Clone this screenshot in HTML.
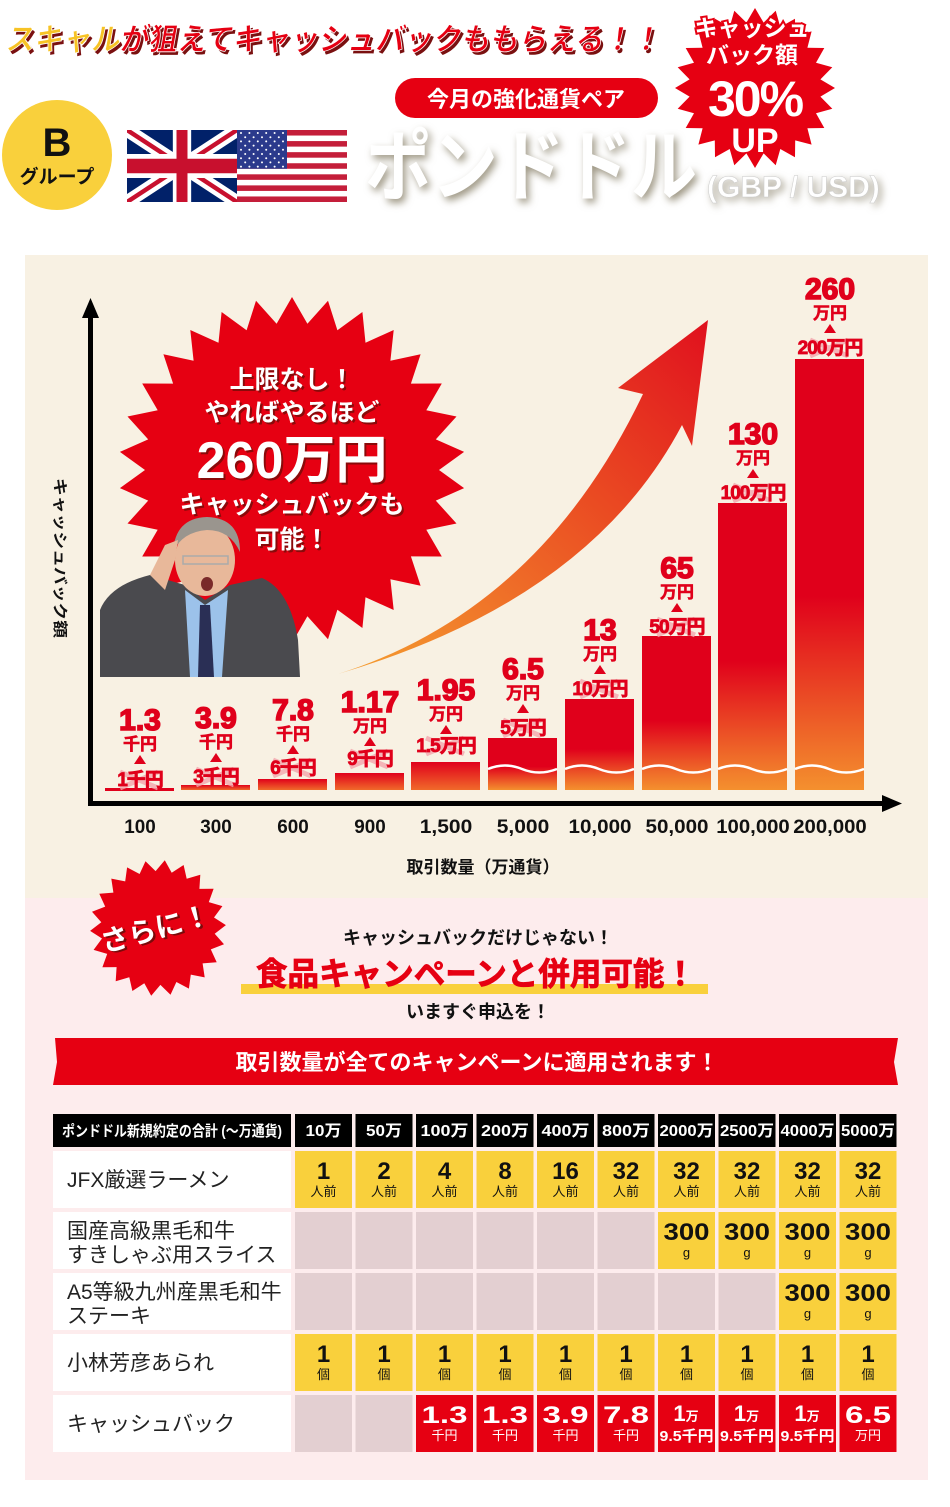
<!DOCTYPE html>
<html><head><meta charset="utf-8">
<style>
html,body{margin:0;padding:0;background:#fff;}
svg{display:block;}
text{font-family:"Liberation Sans","Noto Sans CJK JP",sans-serif;font-weight:bold;}
</style></head>
<body>
<svg id="s" width="950" height="1507" viewBox="0 0 950 1507" xmlns="http://www.w3.org/2000/svg">
<defs>
<linearGradient id="bar" x1="0" y1="0" x2="0" y2="1">
<stop offset="0" stop-color="#e0001b"/><stop offset="0.55" stop-color="#e0001b"/><stop offset="1" stop-color="#f4902e"/></linearGradient>
<linearGradient id="bars" x1="0" y1="0" x2="0" y2="1">
<stop offset="0" stop-color="#e0001b"/><stop offset="1" stop-color="#f06a2a"/></linearGradient>
<linearGradient id="arr" x1="0" y1="1" x2="1" y2="0">
<stop offset="0" stop-color="#f5a030"/><stop offset="0.6" stop-color="#ea4a22"/><stop offset="1" stop-color="#e0101e"/></linearGradient>
<filter id="blur" x="-20%" y="-20%" width="140%" height="140%"><feGaussianBlur stdDeviation="4"/></filter>
</defs>
<rect x="25" y="255" width="903" height="643" fill="#f8f1e3"/>
<rect x="25" y="898" width="903" height="582" fill="#fdeced"/>
<g id="dyn"></g>
</svg>
<script>
var s=document.getElementById('dyn');var h='';
function star(cx,cy,R,r,n,fill,rot){var p=[];for(var i=0;i<2*n;i++){var a=Math.PI*i/n+(rot||0);var rr=i%2?r:R;p.push((cx+rr*Math.sin(a)).toFixed(1)+','+(cy-rr*Math.cos(a)).toFixed(1));}return '<polygon points="'+p.join(' ')+'" fill="'+fill+'"/>';}
function t(x,y,str,size,fill,anchor,extra){return '<text x="'+x+'" y="'+y+'" font-size="'+size+'" fill="'+fill+'" text-anchor="'+(anchor||'middle')+'" '+(extra||'')+'>'+str+'</text>';}
h+='<g transform="translate(5,50) skewX(-10)">'+
'<text x="3" y="3" font-size="31" fill="#7a1010" textLength="655" lengthAdjust="spacingAndGlyphs">スキャルが狙えてキャッシュバックももらえる！！</text>'+
'<text x="0" y="0" font-size="31" fill="#e60012" stroke="#fff" stroke-width="0.8" textLength="655" lengthAdjust="spacingAndGlyphs"><tspan fill="#f7c325">スキャル</tspan>が狙えてキャッシュバックももらえる！！</text></g>';
h+='<circle cx="57" cy="155" r="55" fill="#f9d03c"/>'+t(57,156,'B',40,'#111')+t(57,183,'グループ',19,'#111');
h+='<g transform="translate(127,130)"><svg width="110" height="72" viewBox="0 0 60 30" preserveAspectRatio="none"><rect width="60" height="30" fill="#012169"/><path d="M0,0 L60,30 M60,0 L0,30" stroke="#fff" stroke-width="6"/><path d="M0,0 L60,30 M60,0 L0,30" stroke="#C8102E" stroke-width="2"/><path d="M30,0 v30 M0,15 h60" stroke="#fff" stroke-width="10"/><path d="M30,0 v30 M0,15 h60" stroke="#C8102E" stroke-width="6"/></svg></g>';
var us='<g transform="translate(237,130)"><rect width="110" height="72" fill="#fff"/>';
for(var i=0;i<13;i+=2)us+='<rect y="'+(i*72/13)+'" width="110" height="'+(72/13)+'" fill="#c41e3a"/>';
us+='<rect width="50" height="'+(72*7/13)+'" fill="#2b3a8c"/>';
for(var r=0;r<9;r++)for(var c=0;c<(r%2?5:6);c++)us+='<circle cx="'+(4+c*8.4+(r%2?4.2:0))+'" cy="'+(3+r*4.2)+'" r="1" fill="#fff"/>';
h+=us+'</g>';
h+='<rect x="395" y="78" width="263" height="40" rx="20" fill="#e60012"/>'+t(526,107,'今月の強化通貨ペア',22,'#fff');
h+='<g filter="url(#blur)">'+t(368,198,'ポンドドル',78,'#9b9481','start','textLength="332" lengthAdjust="spacingAndGlyphs"')+t(710,200,'(GBP / USD)',30,'#9b9481','start')+'</g>';
h+=t(365,194,'ポンドドル',78,'#fff','start','textLength="332" lengthAdjust="spacingAndGlyphs"')+t(707,197,'(GBP / USD)',30,'#fff','start','stroke="#ccc" stroke-width="0.5"');
h+=star(755,88,80,66,24,'#e60012');
var bs='stroke="#e60012" stroke-width="4" style="paint-order:stroke"';
h+=t(752,36,'キャッシュ',23,'#fff','middle',bs)+t(752,63,'バック額',23,'#fff','middle',bs)+t(755,116,'30%',50,'#fff','middle','letter-spacing="-2"')+t(755,152,'UP',34,'#fff');
h+='<rect x="88" y="312" width="5" height="494" fill="#000"/><polygon points="90.5,298 82,318 99,318" fill="#000"/>';
h+='<rect x="88" y="801" width="800" height="5" fill="#000"/><polygon points="902,803.5 882,795 882,812" fill="#000"/>';
h+='<text x="0" y="0" font-size="15" fill="#111" transform="translate(55,478) rotate(90)" textLength="160" lengthAdjust="spacingAndGlyphs">キャッシュバック額</text>';
h+=star(292,470,173,147,30,'#e60012');
function wt(x,y,str,size){return t(x+2,y+2,str,size,'#8a0a0a')+t(x,y,str,size,'#fff');}
h+=wt(292,388,'上限なし！',25)+wt(292,421,'やればやるほど',25)+wt(292,478,'260万円',52)+wt(292,513,'キャッシュバックも',25)+wt(292,548,'可能！',25);
h+='<path d="M100,610 Q110,585 150,575 L185,585 L205,600 L230,585 L262,578 Q290,590 298,640 L300,677 L100,677 Z" fill="#4a4a4e"/>';
h+='<path d="M185,590 L205,605 L228,590 L222,677 L190,677 Z" fill="#9cc2ea"/>';
h+='<path d="M200,605 L210,605 L214,677 L198,677 Z" fill="#2a2f55"/>';
h+='<ellipse cx="205" cy="560" rx="30" ry="36" fill="#e8b89a"/>';
h+='<path d="M173,552 Q175,518 207,517 Q240,518 240,552 Q230,530 207,530 Q182,532 173,552 Z" fill="#9a958e"/>';
h+='<rect x="183" y="556" width="45" height="8" fill="none" stroke="#aaa" stroke-width="1.5"/>';
h+='<ellipse cx="207" cy="584" rx="6" ry="7" fill="#7a2a2a"/>';
h+='<path d="M150,575 L165,545 L178,540 L175,560 L165,590 Z" fill="#e8b89a"/>';
h+='<path d="M338,674 Q540,610 643,394 L618,388 L708,320 L692,446 L682,425 Q590,600 338,674 Z" fill="url(#arr)"/>';
var bars=[[140,789,'1.3','千円','1千円',730,'s'],[216,785,'3.9','千円','3千円',728,'s'],[293,779,'7.8','千円','6千円',720,'s'],[370,773,'1.17','万円','9千円',712,'s'],[446,762,'1.95','万円','1.5万円',700,'s'],[523,738,'6.5','万円','5万円',679,'w'],[600,699,'13','万円','10万円',640,'w'],[677,636,'65','万円','50万円',578,'w'],[753,503,'130','万円','100万円',444,'w'],[830,359,'260','万円','200万円',299,'w']];
var ticks=['100','300','600','900','1,500','5,000','10,000','50,000','100,000','200,000'];
bars.forEach(function(b,i){var x=b[0]-35,w=69,top=b[1],bot=790;
 if(i==0){h+='<rect x="'+(x)+'" y="788" width="'+w+'" height="3" fill="#e0001b"/>';}
 else{h+='<rect x="'+x+'" y="'+top+'" width="'+w+'" height="'+(bot-top)+'" fill="url(#'+(b[6]=='w'?'bar':'bars')+')"/>';}
 if(b[6]=='w'){h+='<path d="M'+x+',769 q17,-7 34,0 t35,0" stroke="#fff" stroke-width="2.5" fill="none"/>';}
 var by=b[5];
 h+=t(b[0],by,b[2],30,'#e0001b','middle','letter-spacing="0" stroke="#e0001b" stroke-width="1.6"');
 h+=t(b[0],by+20,b[3],17,'#e0001b','middle','stroke="#e0001b" stroke-width="0.6"');
 h+='<polygon points="'+b[0]+','+(by+25)+' '+(b[0]-6)+','+(by+34)+' '+(b[0]+6)+','+(by+34)+'" fill="#e0001b"/>';
 var oy=by+(i<5?56-(i*1):55);
 h+='<path d="M'+(b[0]-20)+','+(oy-14)+' L'+(b[0]+18)+','+(oy+2)+' M'+(b[0]-20)+','+(oy+2)+' L'+(b[0]+18)+','+(oy-14)+'" stroke="#f4a5ad" stroke-width="5" opacity="0.8"/>';
 h+=t(b[0],oy,b[4],19,'#e0001b','middle','letter-spacing="-1" stroke="#e0001b" stroke-width="0.8"');
 h+=t(b[0],833,ticks[i],19,'#111','middle','textLength="'+(ticks[i].length*10.5)+'" lengthAdjust="spacingAndGlyphs"');
});
h+=t(483,873,'取引数量（万通貨）',17,'#111');
h+=star(158,928,68,57,22,'#e60012',0.1);
h+='<g transform="translate(158,938) rotate(-15)">'+t(2,2,'さらに！',28,'#7a0a0a')+t(0,0,'さらに！',28,'#fff')+'</g>';
h+=t(478,944,'キャッシュバックだけじゃない！',18,'#111');
h+='<rect x="241" y="984" width="467" height="10" fill="#f9d03c"/>';
h+=t(476,985,'食品キャンペーンと併用可能！',32,'#e60012','middle','textLength="440" lengthAdjust="spacingAndGlyphs" stroke="#e60012" stroke-width="0.8"');
h+=t(478,1018,'いますぐ申込を！',18,'#111');
h+='<polygon points="55,1038 898,1038 894,1062 898,1085 53,1085 57,1062" fill="#e60012"/>';
h+=t(477,1070,'取引数量が全てのキャンペーンに適用されます！',22,'#fff');
var Y=1114;
h+='<rect x="53" y="'+Y+'" width="238" height="33" fill="#000"/>'+t(172,Y+22,'ポンドドル新規約定の合計 (〜万通貨)',15,'#fff','middle','textLength="220" lengthAdjust="spacingAndGlyphs"');
var heads=['10万','50万','100万','200万','400万','800万','2000万','2500万','4000万','5000万'];
function cx(i){return 295+i*60.5;}
heads.forEach(function(hh,i){h+='<rect x="'+cx(i)+'" y="'+Y+'" width="57" height="33" fill="#000"/>'+t(cx(i)+28.5,Y+22,hh,16,'#fff','middle','textLength="'+(hh.length>4?54:hh.length*12)+'" lengthAdjust="spacingAndGlyphs"');});
var rows=[
 {l:['JFX厳選ラーメン'],c:[['1','人前'],['2','人前'],['4','人前'],['8','人前'],['16','人前'],['32','人前'],['32','人前'],['32','人前'],['32','人前'],['32','人前']],col:'y'},
 {l:['国産高級黒毛和牛','すきしゃぶ用スライス'],c:[0,0,0,0,0,0,['300','g'],['300','g'],['300','g'],['300','g']],col:'y'},
 {l:['A5等級九州産黒毛和牛','ステーキ'],c:[0,0,0,0,0,0,0,0,['300','g'],['300','g']],col:'y'},
 {l:['小林芳彦あられ'],c:[['1','個'],['1','個'],['1','個'],['1','個'],['1','個'],['1','個'],['1','個'],['1','個'],['1','個'],['1','個']],col:'y'},
 {l:['キャッシュバック'],c:[0,0,['1.3','千円'],['1.3','千円'],['3.9','千円'],['7.8','千円'],['1万','9.5千円'],['1万','9.5千円'],['1万','9.5千円'],['6.5','万円']],col:'r'}];
var ry=[1151,1212,1273,1334,1395];
rows.forEach(function(r,ri){var y=ry[ri],hh=57;
 h+='<rect x="53" y="'+y+'" width="238" height="'+hh+'" fill="#fff"/>';
 if(r.l.length==1)h+=t(67,y+36,r.l[0],21,'#222','start','style="font-weight:normal"');
 else{h+=t(67,y+26,r.l[0],21,'#222','start','style="font-weight:normal"')+t(67,y+50,r.l[1],21,'#222','start','style="font-weight:normal"');}
 r.c.forEach(function(v,i){var x=cx(i);
  if(!v){h+='<rect x="'+x+'" y="'+y+'" width="57" height="'+hh+'" fill="#e3cfd1"/>';return;}
  var red=r.col=='r';
  h+='<rect x="'+x+'" y="'+y+'" width="57" height="'+hh+'" fill="'+(red?'#e60012':'#f9d03c')+'"/>';
  var fc=red?'#fff':'#111';
  if(v[0]=='1万'){h+='<text x="'+(x+28)+'" y="'+(y+26)+'" font-size="22" fill="#fff" text-anchor="middle">1<tspan font-size="13">万</tspan></text>'+t(x+28.5,y+46,v[1],15,'#fff','middle','textLength="54" lengthAdjust="spacingAndGlyphs"');}
  else{h+=t(x+28.5,y+28,v[0],24,fc,'middle',v[0].length>2?'textLength="46" lengthAdjust="spacingAndGlyphs"':'')+t(x+28.5,y+45,v[1],13,fc,'middle','style="font-weight:normal"');}
 });
});
s.innerHTML=h;
</script>
</body></html>
